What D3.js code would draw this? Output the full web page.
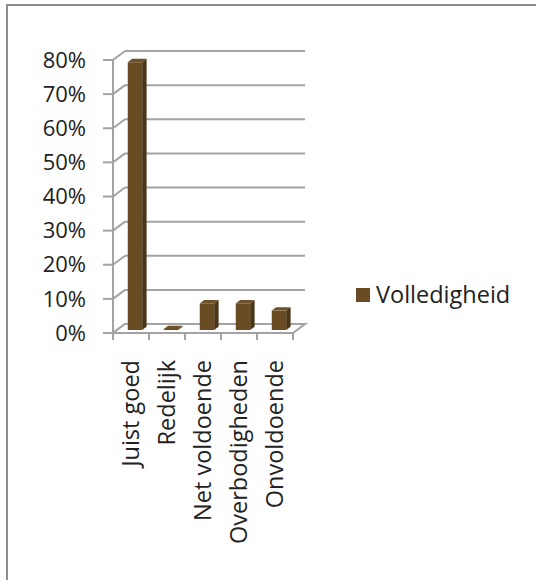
<!DOCTYPE html>
<html>
<head>
<meta charset="utf-8">
<script src="https://cdn.jsdelivr.net/npm/d3@7"></script>
<style>
  body { margin: 0; background: #fff; }
  svg text { font-family: "Open Sans", Lato, sans-serif; fill: #222; }
</style>
</head>
<body>
<div id="chart"></div>
<script>
// data
var categories = ["Juist goed", "Redelijk", "Net voldoende", "Overbodigheden", "Onvoldoende"];
var values = [0.785, 0.003, 0.078, 0.078, 0.057];
var yTicks = [0, 0.1, 0.2, 0.3, 0.4, 0.5, 0.6, 0.7, 0.8];
var seriesName = "Volledigheid";

var width = 536, height = 580;

var svg = d3.select("#chart").append("svg")
  .attr("width", width)
  .attr("height", height);

// outer frame (only top and left visible)
svg.append("rect")
  .attr("x", 7).attr("y", 5)
  .attr("width", 560).attr("height", 600)
  .attr("fill", "none")
  .attr("stroke", "#8c8c8c")
  .attr("stroke-width", 2);

// Scales on the back wall
var y = d3.scaleLinear().domain([0, 0.8]).range([324, 51]);
var x = d3.scaleBand().domain(categories).range([125, 305])
  .paddingInner(0.6).paddingOuter(0.3);
var xCat = d3.scaleBand().domain(categories).range([125, 305]);

// 3D depth: front of the floor is shifted by (dx, dy)
var depthX = -12, depthY = 9;
function P(px, py, f) { return [px + depthX * f, py + depthY * f]; }

var grid = "#a3a3a3";

// back wall gridlines
svg.selectAll(".grid").data(yTicks).enter()
  .append("line")
  .attr("x1", 125).attr("x2", 305)
  .attr("y1", function(d) { return y(d); })
  .attr("y2", function(d) { return y(d); })
  .attr("stroke", grid).attr("stroke-width", 2);

// side wall diagonals
svg.selectAll(".diag").data(yTicks).enter()
  .append("line")
  .attr("x1", 125).attr("y1", function(d) { return y(d); })
  .attr("x2", 125 + depthX).attr("y2", function(d) { return y(d) + depthY; })
  .attr("stroke", grid).attr("stroke-width", 2);

// floor
var floor = [P(125, y(0), 0), P(305, y(0), 0), P(305, y(0), 1), P(125, y(0), 1)];
svg.append("path")
  .attr("d", "M" + floor.join("L") + "Z")
  .attr("fill", "#fff")
  .attr("stroke", grid).attr("stroke-width", 2);

// front y axis
svg.append("line")
  .attr("x1", 125 + depthX).attr("x2", 125 + depthX)
  .attr("y1", y(0.8) + depthY).attr("y2", y(0) + depthY + 7)
  .attr("stroke", grid).attr("stroke-width", 2);

svg.selectAll(".ytick").data(yTicks).enter()
  .append("line")
  .attr("x1", 125 + depthX - 10).attr("x2", 125 + depthX)
  .attr("y1", function(d) { return y(d) + depthY; })
  .attr("y2", function(d) { return y(d) + depthY; })
  .attr("stroke", grid).attr("stroke-width", 2);

svg.selectAll(".ylabel").data(yTicks).enter()
  .append("text")
  .attr("x", 86)
  .attr("y", function(d) { return y(d) + depthY; })
  .attr("dy", "0.35em")
  .attr("text-anchor", "end")
  .attr("font-size", 22)
  .text(d3.format(".0%"));

// category ticks on the front edge
var catEdges = categories.map(function(c) { return xCat(c); }).concat([305]);
svg.selectAll(".xtick").data(catEdges).enter()
  .append("line")
  .attr("x1", function(d) { return d + depthX; })
  .attr("x2", function(d) { return d + depthX; })
  .attr("y1", y(0) + depthY).attr("y2", y(0) + depthY + 7)
  .attr("stroke", grid).attr("stroke-width", 2);

// bars (front plane at f1, back plane at f0)
var f0 = 0.3, f1 = 0.67;
var bars = svg.selectAll(".bar").data(values).enter().append("g");

bars.append("path") // side
  .attr("d", function(d, i) {
    var xr = x(categories[i]) + x.bandwidth();
    var pts = [P(xr, y(0), f1), P(xr, y(d), f1), P(xr, y(d), f0), P(xr, y(0), f0)];
    return "M" + pts.join("L") + "Z";
  })
  .attr("fill", "#4a3518");

bars.append("path") // top
  .attr("d", function(d, i) {
    var xl = x(categories[i]), xr = xl + x.bandwidth();
    var pts = [P(xl, y(d), f1), P(xr, y(d), f1), P(xr, y(d), f0), P(xl, y(d), f0)];
    return "M" + pts.join("L") + "Z";
  })
  .attr("fill", "#6e5128");

bars.append("path") // front
  .attr("d", function(d, i) {
    var xl = x(categories[i]), xr = xl + x.bandwidth();
    var pts = [P(xl, y(0), f1), P(xr, y(0), f1), P(xr, y(d), f1), P(xl, y(d), f1)];
    return "M" + pts.join("L") + "Z";
  })
  .attr("fill", "#6a4c24");

// category labels
svg.selectAll(".xlabel").data(categories).enter()
  .append("text")
  .attr("transform", function(d) {
    return "translate(" + (xCat(d) + xCat.bandwidth() / 2 + depthX) + "," + 360 + ") rotate(-90)";
  })
  .attr("dy", "0.35em")
  .attr("text-anchor", "end")
  .attr("font-size", 23.5)
  .text(function(d) { return d; });

// legend
svg.append("rect")
  .attr("x", 356).attr("y", 288)
  .attr("width", 14).attr("height", 14)
  .attr("fill", "#6a4c24");

svg.append("text")
  .attr("x", 376).attr("y", 295)
  .attr("dy", "0.35em")
  .attr("font-size", 23.5)
  .text(seriesName);
</script>
</body>
</html>
